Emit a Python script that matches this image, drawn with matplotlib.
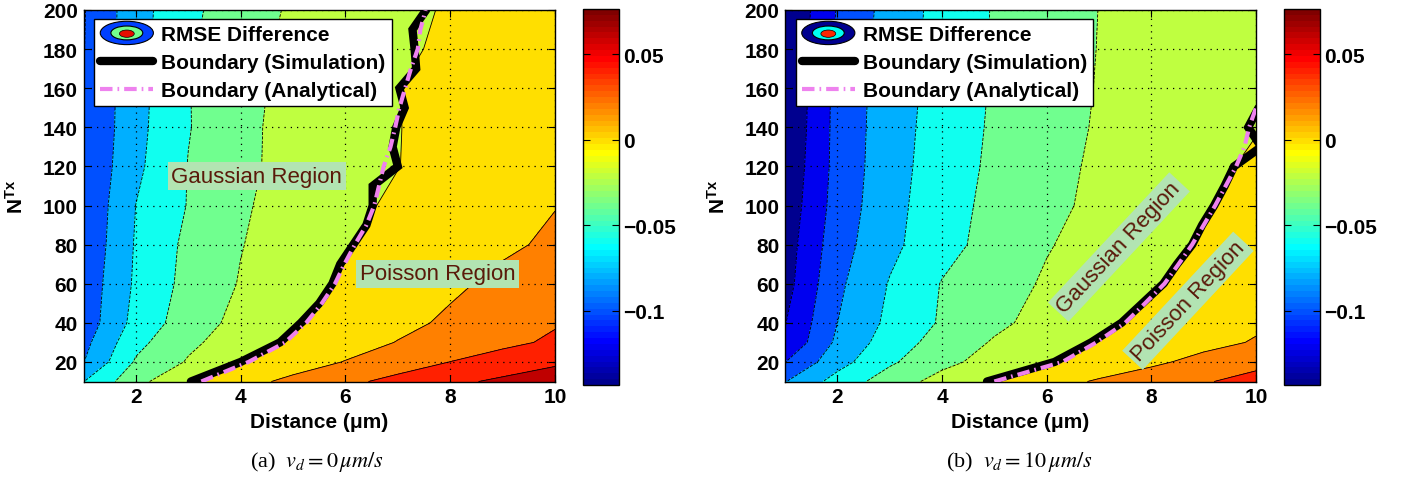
import numpy as np
import matplotlib
matplotlib.use("Agg")
import matplotlib.pyplot as plt
from matplotlib.colors import ListedColormap, Normalize
from matplotlib.cm import ScalarMappable
from matplotlib.legend_handler import HandlerBase
from matplotlib.patches import Ellipse, Patch
from matplotlib.lines import Line2D

plt.rcParams['font.family'] = ['Liberation Sans', 'DejaVu Sans']
plt.rcParams['mathtext.fontset'] = 'custom'
plt.rcParams['mathtext.rm'] = 'Liberation Sans:bold'
plt.rcParams['mathtext.bf'] = 'Liberation Sans:bold'
plt.rcParams['mathtext.it'] = 'Liberation Sans:italic:bold'

# ---------------- data ----------------
DIST = [1, 2, 3, 4, 5, 6, 7, 8, 9, 10]                       # distance (um)
NTX = [10, 20, 30, 40, 60, 80, 100, 120, 140, 160, 180, 200]  # N^Tx

# RMSE difference, panel (a) v_d = 0  (rows = NTX, cols = DIST)
RMSE_A = [
    [-0.0605, -0.0267, -0.0012, 0.0129, 0.0250, 0.0355, 0.0457, 0.0557, 0.0636, 0.0700],
    [-0.0805, -0.0378, -0.0183, 0.0003, 0.0104, 0.0208, 0.0305, 0.0402, 0.0486, 0.0570],
    [-0.0860, -0.0456, -0.0240, -0.0101, 0.0019, 0.0114, 0.0207, 0.0281, 0.0356, 0.0430],
    [-0.0921, -0.0533, -0.0297, -0.0142, -0.0024, 0.0067, 0.0150, 0.0231, 0.0308, 0.0385],
    [-0.0933, -0.0569, -0.0338, -0.0188, -0.0081, 0.0019, 0.0093, 0.0167, 0.0243, 0.0320],
    [-0.0965, -0.0582, -0.0354, -0.0207, -0.0110, -0.0014, 0.0051, 0.0110, 0.0170, 0.0230],
    [-0.0980, -0.0598, -0.0391, -0.0236, -0.0085, -0.0040, 0.0027, 0.0083, 0.0139, 0.0195],
    [-0.0993, -0.0642, -0.0394, -0.0255, -0.0118, -0.0068, -0.0003, 0.0057, 0.0113, 0.0170],
    [-0.1005, -0.0660, -0.0409, -0.0261, -0.0116, -0.0070, -0.0004, 0.0047, 0.0096, 0.0145],
    [-0.1003, -0.0671, -0.0407, -0.0268, -0.0132, -0.0075, -0.0002, 0.0039, 0.0079, 0.0120],
    [-0.1007, -0.0675, -0.0423, -0.0280, -0.0147, -0.0092, -0.0024, 0.0025, 0.0063, 0.0100],
    [-0.1013, -0.0680, -0.0442, -0.0299, -0.0172, -0.0108, -0.0039, 0.0015, 0.0047, 0.0080],
]

# RMSE difference, panel (b) v_d = 10
RMSE_B = [
    [-0.0809, -0.0522, -0.0301, -0.0130, 0.0015, 0.0122, 0.0222, 0.0304, 0.0385, 0.0460],
    [-0.1005, -0.0676, -0.0431, -0.0252, -0.0126, -0.0019, 0.0074, 0.0164, 0.0256, 0.0350],
    [-0.1178, -0.0760, -0.0505, -0.0320, -0.0182, -0.0084, 0.0010, 0.0078, 0.0146, 0.0214],
    [-0.1208, -0.0801, -0.0554, -0.0378, -0.0241, -0.0134, -0.0040, 0.0038, 0.0104, 0.0170],
    [-0.1278, -0.0841, -0.0588, -0.0391, -0.0281, -0.0178, -0.0097, -0.0016, 0.0065, 0.0146],
    [-0.1298, -0.0884, -0.0650, -0.0467, -0.0328, -0.0212, -0.0133, -0.0058, 0.0016, 0.0091],
    [-0.1333, -0.0917, -0.0667, -0.0482, -0.0346, -0.0245, -0.0159, -0.0087, -0.0015, 0.0058],
    [-0.1359, -0.0934, -0.0679, -0.0501, -0.0362, -0.0258, -0.0170, -0.0105, -0.0039, 0.0026],
    [-0.1385, -0.0937, -0.0689, -0.0512, -0.0373, -0.0271, -0.0183, -0.0124, -0.0066, -0.0008],
    [-0.1400, -0.0940, -0.0698, -0.0525, -0.0381, -0.0282, -0.0190, -0.0133, -0.0076, -0.0020],
    [-0.1400, -0.0964, -0.0709, -0.0529, -0.0384, -0.0287, -0.0195, -0.0141, -0.0088, -0.0035],
    [-0.1400, -0.0988, -0.0722, -0.0534, -0.0387, -0.0291, -0.0198, -0.0148, -0.0099, -0.0050],
]

# Gaussian/Poisson boundary (distance at each N^Tx)
BOUND_NTX_A = [10, 20, 30, 40, 50, 60, 70, 80, 90, 100, 110, 120, 130, 140, 150, 160, 170, 180, 190, 200]
BOUND_SIM_A = [3.05, 4.0, 4.75, 5.15, 5.5, 5.75, 5.9, 6.15, 6.4, 6.52, 6.52, 7.0, 6.9, 6.97, 7.13, 7.03, 7.35, 7.32, 7.28, 7.54]
BOUND_ANA_A = [3.25, 4.15, 4.85, 5.25, 5.55, 5.8, 5.98, 6.18, 6.4, 6.55, 6.64, 6.73, 6.86, 6.95, 7.03, 7.14, 7.25, 7.38, 7.43, 7.53]

BOUND_NTX_B = [10, 20, 30, 40, 50, 60, 70, 80, 90, 100, 110, 120, 130, 140, 150]
BOUND_SIM_B = [4.86, 6.15, 6.85, 7.43, 7.83, 8.23, 8.49, 8.78, 8.97, 9.2, 9.4, 9.58, 10.1, 9.85, 10.05]
BOUND_ANA_B = [5.0, 6.3, 6.95, 7.5, 7.88, 8.25, 8.52, 8.78, 9.0, 9.22, 9.42, 9.62, 9.78, 9.87, 10.0]

LEVELS = [-0.16, -0.14, -0.12, -0.10, -0.08, -0.06, -0.04, -0.02, 0.0, 0.02, 0.04, 0.06, 0.08]
CLIM = (-0.1434, 0.0763)
CBAR_TICKS = [-0.1, -0.05, 0, 0.05]
CBAR_LABELS = ['\u22120.1', '\u22120.05', '0', '0.05']
XTICKS = [2, 4, 6, 8, 10]
YTICKS = [20, 40, 60, 80, 100, 120, 140, 160, 180, 200]
LEGEND_LABELS = ['RMSE Difference', 'Boundary (Simulation)', 'Boundary (Analytical)']
CAPTIONS = [r'(a)  $v_d = 0\,\mu m/s$', r'(b)  $v_d = 10\,\mu m/s$']


def matlab_jet(m=64):
    n = int(np.ceil(m / 4))
    u = np.concatenate([np.arange(1, n + 1) / n, np.ones(n - 1), np.arange(n, 0, -1) / n])
    g = int(np.ceil(n / 2)) - (1 if m % 4 == 1 else 0) + np.arange(1, len(u) + 1)
    r = g + n
    b = g - n
    J = np.zeros((m, 3))
    for idx, ch in ((r, 0), (g, 1), (b, 2)):
        mask = (idx >= 1) & (idx <= m)
        J[idx[mask] - 1, ch] = u[mask]
    return J


JET = matlab_jet(64)
CMAP = ListedColormap(JET)


def level_color(v):
    i = int((v - CLIM[0]) / (CLIM[1] - CLIM[0]) * 64)
    return tuple(JET[min(max(i, 0), 63)])


BAND_COLORS = [level_color(v) for v in LEVELS[:-1]]


class ContourIcon(HandlerBase):
    def __init__(self, colors):
        super().__init__()
        self.colors = colors

    def create_artists(self, legend, orig_handle, xdescent, ydescent, width, height, fontsize, trans):
        cx = -xdescent + width / 2
        cy = -ydescent + height / 2
        c0, c1, c2 = self.colors
        e0 = Ellipse((cx, cy), width * 1.0, height * 1.6, facecolor=c0, edgecolor='k', lw=0.8, transform=trans)
        e1 = Ellipse((cx, cy), width * 0.6, height * 0.95, facecolor=c1, edgecolor='k', lw=0.8, transform=trans)
        e2 = Ellipse((cx, cy - 0.05 * height), width * 0.28, height * 0.5, facecolor=c2, edgecolor='k', lw=0.5, transform=trans)
        return [e0, e1, e2]


W, H = 1401, 485
fig = plt.figure(figsize=(W / 100, H / 100), dpi=100)


def rect(l, t, r, b):
    return [l / W, 1 - b / H, (r - l) / W, (b - t) / H]


panels = [
    dict(ax=rect(83.5, 11, 555, 382.5), cax=rect(583, 10, 618.5, 386), Z=RMSE_A,
         by=BOUND_NTX_A, sim=BOUND_SIM_A, ana=BOUND_ANA_A,
         icon=[(0.0, 0.25, 1.0), (0.45, 1.0, 0.55), (0.9, 0.05, 0.0)],
         texts=[('Gaussian Region', 4.31, 114.9, 0), ('Poisson Region', 7.76, 65.0, 0)],
         cap_x=317),
    dict(ax=rect(785, 11, 1256, 382.5), cax=rect(1283.5, 10, 1319.5, 386), Z=RMSE_B,
         by=BOUND_NTX_B, sim=BOUND_SIM_B, ana=BOUND_ANA_B,
         icon=[(0.0, 0.0, 0.56), (0.0, 1.0, 0.95), (1.0, 0.15, 0.0)],
         texts=[('Gaussian Region', 7.38, 78.8, 47), ('Poisson Region', 8.70, 51.3, 47)],
         cap_x=1019),
]

Xg, Yg = np.meshgrid(DIST, NTX)
for k, p in enumerate(panels):
    ax = fig.add_axes(p['ax'])
    Z = np.array(p['Z'])
    ax.contourf(Xg, Yg, Z, levels=LEVELS, colors=BAND_COLORS, zorder=1)
    ax.contour(Xg, Yg, Z, levels=LEVELS, colors='k', linewidths=0.6, zorder=2)
    ax.set_xlim(1, 10)
    ax.set_ylim(10, 200)
    ax.set_xticks(XTICKS)
    ax.set_yticks(YTICKS)
    ax.set_axisbelow(False)
    ax.grid(True, color='k', linestyle=(0, (1, 4)), linewidth=0.9)
    ax.tick_params(direction='in', length=5, width=0.8, top=True, right=True, labelsize=15, pad=4)
    for lab in ax.get_xticklabels() + ax.get_yticklabels():
        lab.set_fontweight('bold')
    for s in ax.spines.values():
        s.set_linewidth(1.0)

    ax.plot(p['sim'], p['by'], color='k', lw=6, solid_capstyle='round',
            solid_joinstyle='miter', zorder=4)
    ax.plot(p['ana'], p['by'], color='violet', lw=3, linestyle=(0, (3.0, 1.2, 0.4, 1.2)), zorder=5)

    for txt, x, y, rot in p['texts']:
        ax.text(x, y, txt, fontsize=16, fontweight='normal', color='#5a1a0a', rotation=rot,
                rotation_mode='anchor', ha='center', va='center', zorder=6,
                bbox=dict(boxstyle='square,pad=0.16', facecolor='#b2e4b2', edgecolor='none'))

    ax.set_xlabel('Distance (\u03bcm)', fontsize=15, fontweight='bold', labelpad=4)
    ax.set_ylabel(r'$\mathbf{N^{Tx}}$', fontsize=15, math_fontfamily='custom')
    ax.yaxis.set_label_coords(-0.12, 0.5)

    icon_handle = Patch()
    sim_handle = Line2D([], [], color='k', lw=6, solid_capstyle='round')
    ana_handle = Line2D([], [], color='violet', lw=3, linestyle=(0, (3.0, 1.2, 0.4, 1.2)))
    leg = ax.legend([icon_handle, sim_handle, ana_handle], LEGEND_LABELS,
                    handler_map={Patch: ContourIcon(p['icon'])},
                    loc='upper left', bbox_to_anchor=(0.0223, 0.9758), borderaxespad=0,
                    frameon=True, fancybox=False, framealpha=1,
                    edgecolor='k', handlelength=2.55, handletextpad=0.38,
                    labelspacing=0.43, borderpad=0.3, prop={'weight': 'bold', 'size': 15})
    leg.get_frame().set_linewidth(1.0)
    leg.set_zorder(10)

    cax = fig.add_axes(p['cax'])
    sm = ScalarMappable(norm=Normalize(*CLIM), cmap=CMAP)
    cb = fig.colorbar(sm, cax=cax, ticks=CBAR_TICKS)
    cb.ax.set_yticklabels(CBAR_LABELS, fontweight='bold')
    cb.ax.tick_params(direction='in', length=5, width=0.8, left=True, right=True, labelsize=15)
    cb.outline.set_linewidth(1.0)

    fig.text(p['cap_x'] / W, 1 - 462 / H, CAPTIONS[k], fontsize=16, fontweight='normal',
             family='Liberation Serif', math_fontfamily='stix', ha='center', va='center')

fig.savefig('out.png', dpi=100)
